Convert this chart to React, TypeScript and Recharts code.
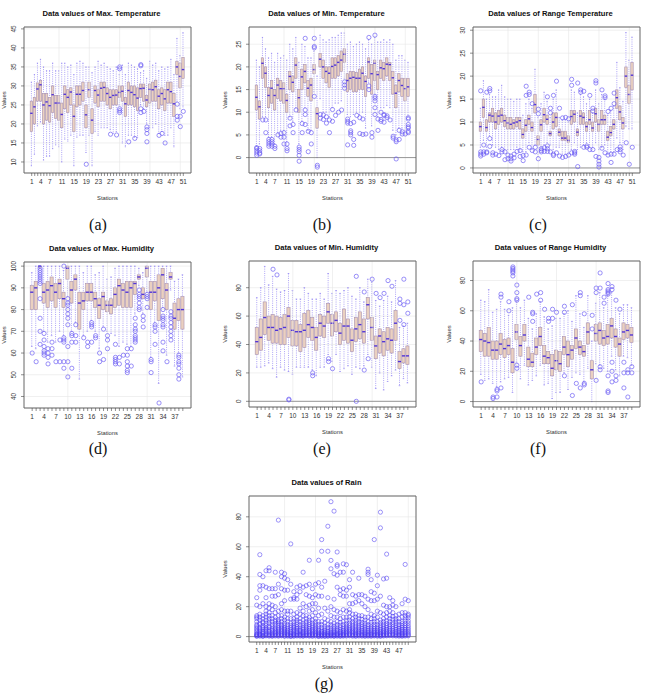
import React from 'react';
import { ComposedChart, Bar, Scatter, XAxis, YAxis, CartesianGrid, ReferenceLine } from 'recharts';

// [lower whisker, q1, median, q3, upper whisker] per station
const maxTempStats = [
  [9, 18, 22.8, 26, 31], [12, 20, 24.5, 27, 33], [19.5, 26, 29.2, 30.8, 36], [20.5, 26, 30.3, 31.5, 37],
  [10.5, 20, 25, 28, 35], [11.5, 21, 25.8, 28, 34], [11.5, 20.5, 24.8, 27, 34], [13.5, 23, 27.7, 30, 36],
  [14.5, 21.5, 25.5, 27.5, 34], [14, 21, 25.5, 27.5, 34], [10, 19, 22.5, 25.5, 36], [16, 24, 27.8, 30, 36],
  [15.5, 23, 27, 29, 35], [17, 25, 28.4, 29.5, 35.5], [9, 18, 22, 25, 33], [16.5, 24.5, 27.8, 30, 36],
  [17, 25, 27.8, 30, 36.5], [17, 26, 28.8, 31, 36], [12.5, 19, 22.4, 25, 35], [17, 27, 29, 31, 35],
  [9, 17.5, 21, 24, 33.5], [18, 25.5, 28.8, 30, 35], [17, 24.5, 27.6, 29, 36.5], [19, 26, 29.4, 31, 35.5],
  [19, 26, 29.6, 31, 36], [19, 25, 28, 29.5, 35], [18.5, 24, 27, 29, 34.5], [17.5, 25, 27.5, 29, 34],
  [18, 25, 27.6, 29, 35], [25, 27, 28.3, 30, 33], [15, 26, 28.6, 30, 35.5], [14, 22, 25.3, 27, 33],
  [17, 25, 28.8, 31, 36], [17, 25, 28.3, 30, 35.5], [16.5, 24.5, 27.7, 30, 35], [16.5, 23.5, 26.8, 29.5, 34.5],
  [25, 27, 29.3, 30.5, 33.5], [24, 26, 29.4, 30.5, 34], [20, 24.5, 26.3, 27.5, 32], [19, 25.5, 29.1, 30.5, 36.5],
  [19, 26, 29, 31, 35.5], [20, 26, 29.8, 31.5, 36], [17.5, 24, 27.3, 29, 34], [18, 25, 28, 29.5, 35],
  [17, 23.5, 26.6, 29, 34.5], [17, 25.5, 29, 31, 35], [19, 25.5, 28.5, 31, 37], [14, 22, 25.3, 28, 33],
  [26, 33, 35, 36.5, 42.5], [24, 29.5, 32.5, 36, 38], [24.5, 32, 34.3, 37.5, 44],
];
const maxTempOutliers: Record<number, number[]> = {
  19: [9.4], 27: [17.3], 29: [17.1], 30: [34.5, 35, 23, 23.5, 24], 33: [15.3], 35: [16.2],
  37: [35.3, 35.6, 23, 24], 38: [23.3], 39: [18.5, 19.2, 17.5, 15.3], 43: [17], 44: [17.5], 45: [15],
  49: [22, 21, 25.2], 50: [19.3, 22], 51: [23.3],
};

const minTempStats = [
  [2.5, 10.5, 13.3, 16, 21.5], [3, 8.5, 11.2, 12.5, 20], [9, 17.5, 20.8, 22, 26.5], [9, 15.5, 18.6, 20, 24],
  [4.5, 11, 13.7, 15.5, 22], [4.5, 12, 15.3, 17, 23], [3, 10.5, 13.7, 15, 21], [5.5, 13, 16, 17.5, 23],
  [6, 12.5, 15.2, 17, 22], [6, 12, 15.2, 16.5, 22.5], [3.5, 10, 12.6, 14, 21.5], [9, 15, 17.9, 19, 25],
  [8, 14.5, 16.6, 18, 24], [11, 17.5, 20.4, 22, 26.5], [3, 10, 13.2, 15, 21], [8, 15, 17.8, 19.5, 25],
  [11, 16.5, 19, 20.5, 24.5], [6, 13.5, 15.3, 17, 22], [6, 12.5, 16, 17.5, 22], [14.5, 18.5, 19.4, 20.5, 23.5],
  [0, 6.5, 9.7, 11, 18], [13, 20, 21.7, 23, 27], [10, 17.5, 20, 21.5, 26], [10, 16.5, 19, 20, 25.5],
  [9, 15.5, 18.6, 20, 26], [11, 17.5, 20.1, 22, 26.5], [12, 17.5, 20.4, 22, 26.5], [12, 18, 21, 22.5, 27],
  [12.5, 19, 21.5, 23.5, 27.5], [17.5, 21, 22.8, 24, 27.5], [9.5, 14.5, 17, 18.5, 25], [9, 15, 17.5, 19, 25.5],
  [9.5, 14.5, 17.7, 19, 24.5], [10, 14.5, 17.5, 18.8, 25], [9.5, 15, 17.5, 19.5, 25.5], [10, 15, 18.6, 20, 25],
  [6.5, 13.5, 16.8, 18, 24], [16.5, 17.5, 21.1, 22, 26], [7, 14, 18.5, 20.5, 25], [14, 17, 20.8, 21.5, 26.5],
  [9, 15, 18.3, 19, 25.5], [11, 17.5, 19.8, 21.5, 25.5], [11, 17, 19.6, 21, 26], [11.5, 18, 20.6, 22, 25.5],
  [11, 17, 20.5, 21, 26], [6, 14, 17.6, 19, 25], [5, 11, 14.2, 16, 21.5], [6.5, 14.5, 17, 18.5, 22.5],
  [6.5, 13.5, 15.9, 17.5, 22.5], [6, 12.5, 15.2, 17.5, 21.5], [9, 13.5, 15.6, 17.5, 21],
];
const minTempOutliers: Record<number, number[]> = {
  1: [0.5, 1, 1.5, 2, 2.2], 2: [0.8, 1, 1.5, 2], 3: [8.3], 4: [8.3, 5.5], 5: [2.5, 3, 3.5, 4],
  6: [2.5, 3, 3.5, 4], 7: [2, 2.5], 8: [5], 9: [4.5, 5.3], 10: [3, 4.5, 5.5], 11: [1.5, 2, 3],
  12: [7, 8.7], 13: [5.5, 7.3], 14: [10.5], 15: [-0.8, 0.5, 1.3, 1.8, 2.3], 16: [5.5, 7.5],
  17: [26.3, 9.5, 10.5, 7.3], 18: [1.3, 5.8], 19: [3, 5.5], 20: [26.3, 24.5, 24.2, 13.5], 21: [-1.7, -2.1],
  22: [9.5, 8.7], 23: [9.4, 8.4], 24: [9, 7.6], 25: [8.3, 5.5], 26: [10.6, 8], 27: [9.3], 28: [10],
  29: [10.5], 30: [16.7, 16, 15.3], 31: [8.5, 8, 7.6, 2.8], 32: [7.5, 5.9, 5, 5.5], 33: [7.8, 4, 2.7],
  34: [9.3], 35: [8.8, 5.3], 36: [8.5, 5.1], 37: [5.2], 38: [26.5, 15.8, 15], 39: [5.5, 4.5],
  40: [27, 13.5, 13.1, 12.5, 11, 9.5], 41: [8.5, 6], 42: [10, 8.4, 8], 43: [9.5, 9.3, 7.8], 44: [8.8, 9.2],
  45: [8.3], 46: [4.7, 4.3], 47: [3.9, 3.5, -0.3], 48: [6, 4], 49: [5.7, 5.2], 50: [5.2],
  51: [8.8, 8.5, 7.3, 6.8, 6.5, 5.8, 5.5],
};

const rangeTempStats = [
  [4.5, 8, 9, 10, 13], [6, 11, 13.2, 15, 19], [4.5, 8, 8.8, 10.5, 15], [7, 10, 11.5, 12, 16],
  [5, 10, 11.3, 13, 15.5], [4.5, 8.5, 10, 12, 15.5], [4, 9.5, 11.3, 12.5, 17], [4.5, 10, 11.5, 13, 18],
  [4, 9, 10.3, 11.5, 15.5], [4, 8.5, 9.8, 11, 15], [4, 8.5, 9.5, 11, 15], [4, 8.5, 9.8, 10.5, 14.5],
  [4.5, 9, 10, 11, 15], [4, 8.5, 10.3, 11, 15], [3.5, 6.5, 7.3, 8.5, 11.5], [3.5, 8, 9.3, 10.5, 14],
  [5.5, 9.5, 10.7, 11.5, 15], [4, 8, 8.8, 10, 13], [5, 12, 13.8, 16, 21.5], [2.5, 5, 6.2, 7, 11],
  [4.5, 8, 9.4, 10.5, 14], [5, 10, 11.6, 13, 16.5], [5.5, 9.5, 10.6, 11.5, 14.5], [5, 7, 7.5, 8, 11],
  [4, 8.5, 10, 12, 15], [4.5, 9, 11, 12, 17], [4.5, 7, 7.8, 8.5, 11], [3, 6, 6.5, 8, 10.5],
  [3, 6, 6.5, 8, 10.5], [3, 5.5, 6, 7, 10], [4, 9.5, 11.2, 12.5, 17], [5.5, 10, 11.7, 12.5, 16.5],
  [4, 7, 7.8, 8.5, 12], [4.5, 9.5, 11.3, 12.5, 16], [5, 9.5, 11, 12, 15.5], [5.5, 8, 9, 10, 14],
  [4.5, 9.5, 10.5, 12.5, 15], [4.5, 8, 8.7, 10, 12], [5.5, 10, 11.8, 13, 17], [4, 8, 9.5, 10.5, 14],
  [4.5, 9.5, 10.5, 12.5, 16], [5, 9.5, 10.5, 11.5, 15], [3, 6, 6.7, 8, 11.5], [3.5, 7, 7.7, 9, 12.5],
  [3.5, 8.5, 9.5, 10.5, 13.5], [6.5, 13, 15.3, 17, 23], [5.5, 10.5, 12.2, 13.5, 17.5], [4, 8.5, 9.8, 11, 14.5],
  [9, 17.5, 20, 22, 29.5], [8.5, 14, 16, 18, 23.5], [8.5, 17, 20.2, 23, 28.5],
];
const rangeTempOutliers: Record<number, number[]> = {
  1: [16.8, 3.5, 3, 2.6], 2: [5, 3.5, 3], 3: [16.5, 3.5, 3.3], 4: [17.3, 16.8, 6.4, 4.7], 5: [3.3, 2.8],
  6: [3], 7: [2.7], 8: [4, 3.5], 9: [1.8, 3.5], 10: [2.8, 2], 11: [2.6, 1.5, 2], 12: [2.2, 3], 13: [3.6],
  14: [3.8, 2.5], 15: [2.7, 1.6], 16: [17.8, 15.8, 2.8], 17: [16, 16.5, 4.5], 18: [14, 3.8], 19: [4.5, 3.5],
  20: [12.8, 11.8, 2], 21: [3.5, 3.8, 4.2], 22: [4.4, 3.6], 23: [15.5, 3.6, 4.2, 4.8], 24: [12, 13, 3.5],
  25: [15.8, 3, 2.7], 26: [18.9, 3.3], 27: [13, 2.6], 28: [10.9, 2.3], 29: [11, 2.5], 30: [10.7, 2.8],
  31: [19.3, 18, 3.3], 32: [3.6, 3.3, 3], 33: [18.5, 0.3], 34: [17, 16.5], 35: [16.7, 4.5], 36: [4.8, 4.5],
  37: [15.8, 4], 38: [13, 12.4, 4], 39: [19, 18.5, 2.5], 40: [2.3, 1.5, 0.8, 0.2], 41: [17, 4.3],
  42: [15.7, 15.3, 3.3], 43: [12.3, 2.8], 44: [13, 3, 1.2], 45: [16.3, 14, 3], 46: [4], 47: [4.6, 4, 3.5],
  48: [2.8], 49: [5.5], 50: [0.8], 51: [4.5],
};

const maxHumStats = [
  [63, 80, 88, 91, 97], [62, 80, 90, 93, 100], [99, 99.5, 100, 100, 100], [70, 83, 88, 92, 100],
  [65, 81, 89, 93, 100], [68, 84, 91, 95, 100], [65, 81, 88, 92, 100], [70, 85, 92, 94, 100],
  [68, 81, 85, 88, 98], [86, 94, 99, 100, 100], [70, 83, 89, 93, 100], [74, 89, 94, 96, 100],
  [48, 71, 83, 88, 100], [68, 80, 84, 88, 97], [70, 84, 88, 92, 100], [75, 84, 88, 92, 100],
  [70, 81, 85, 88, 96], [62, 76, 82, 85, 97], [72, 80, 86, 88, 100], [70, 79, 82, 84, 94],
  [69, 78, 82, 85, 95], [68, 81, 87, 90, 99], [63, 82, 91, 94, 100], [65, 81, 89, 92, 100],
  [64, 81, 88, 93, 100], [63, 81, 90, 93, 100], [78, 87, 92, 93, 100], [91, 94, 95, 96, 99],
  [78, 85, 87, 90, 97], [88, 95, 99, 100, 100], [58, 80, 88, 93, 100], [74, 84, 88, 93, 100],
  [46, 75, 90, 96, 100], [81, 85, 96, 99, 100], [59, 80, 89, 92, 100], [89, 94, 95, 97, 100],
  [54, 71, 76, 83, 93], [60, 75, 80, 85, 94], [49, 71, 80, 86, 96],
];
const maxHumOutliers: Record<number, number[]> = {
  1: [60], 2: [56], 3: [99, 98, 97, 96, 95, 94, 93, 92, 85, 76, 70, 64], 4: [69, 66, 63, 61, 60, 59],
  5: [62, 60, 58, 55], 6: [65, 62, 59], 7: [56], 8: [66, 56], 9: [100, 67, 66, 65, 56, 53],
  10: [85, 83, 82, 80, 78, 76, 73, 63, 56, 49], 11: [69, 68, 65, 53], 12: [73, 68, 65], 14: [67],
  15: [65, 63], 16: [74, 73, 72, 65], 17: [68, 67], 18: [60, 56], 19: [71, 57], 20: [68, 66, 62],
  22: [64, 58, 57, 56, 55], 23: [58, 55], 24: [59], 25: [62, 59, 56, 54, 52, 51], 26: [62, 54],
  27: [76, 73, 71, 70, 68, 67, 66, 65], 28: [89, 87, 86, 85, 83, 81, 80], 29: [77, 75, 72],
  30: [87, 86, 85, 81], 31: [57, 56, 51], 32: [73, 72, 70, 64], 33: [37], 34: [80, 77, 76, 75, 73, 72, 65, 61],
  35: [56], 36: [79, 77, 76, 74, 72, 70, 68, 66], 38: [59, 58, 56, 55, 53, 50, 48],
};

const minHumStats = [
  [24, 33, 42, 52, 73], [24, 36, 45, 58, 80], [25, 47, 59, 70, 95], [27, 43, 52, 60, 82],
  [23, 41, 52, 61, 88], [17, 41, 50, 60, 79], [24, 40, 51, 59, 77], [22, 40, 52, 61, 78],
  [21, 45, 60, 66, 90], [19, 39, 50, 57, 78], [24, 39, 49, 57, 72], [24, 35, 49, 54, 72],
  [24, 38, 50, 62, 80], [24, 45, 54, 64, 76], [22, 43, 52, 59, 72], [18, 36, 45, 52, 72],
  [24, 46, 55, 61, 76], [24, 45, 53, 60, 72], [33, 55, 63, 69, 90], [28, 46, 55, 61, 76],
  [33, 49, 57, 63, 78], [21, 40, 48, 55, 76], [23, 43, 53, 65, 78], [25, 41, 53, 58, 80],
  [19, 35, 43, 51, 74], [24, 42, 51, 59, 72], [23, 44, 54, 63, 80], [25, 41, 49, 58, 70],
  [33, 58, 68, 73, 86], [24, 43, 52, 59, 84], [9, 30, 39, 46, 71], [20, 34, 46, 51, 67],
  [8, 32, 42, 49, 71], [14, 36, 44, 52, 74], [18, 34, 43, 51, 70], [22, 43, 55, 64, 85],
  [11, 23, 28, 35, 52], [16, 27, 32, 37, 53], [13, 26, 32, 39, 55],
];
const minHumOutliers: Record<number, number[]> = {
  5: [93], 6: [89], 9: [1, 1.5], 15: [20, 18], 19: [30, 28], 20: [23], 26: [88, 0], 28: [77, 22],
  29: [30], 30: [86], 31: [76], 32: [73], 33: [76], 34: [85], 35: [81], 37: [72, 69, 57],
  38: [86, 68, 54], 39: [70, 62],
};

const rangeHumStats = [
  [18, 33, 41, 47, 67], [14, 30, 40, 45, 66], [15, 30, 39, 49, 74], [12, 28, 34, 40, 59],
  [10, 28, 34, 40, 61], [13, 31, 38, 45, 66], [15, 29, 35, 41, 61], [16, 31, 37, 42, 57],
  [6, 19, 26, 35, 62], [26, 41, 46, 51, 66], [15, 30, 37, 43, 62], [24, 40, 44, 51, 67],
  [11, 23, 28, 36, 55], [14, 23, 26, 32, 48], [17, 31, 36, 42, 58], [24, 37, 43, 49, 66],
  [11, 25, 30, 37, 56], [12, 25, 29, 33, 48], [2, 17, 22, 31, 50], [6, 21, 27, 34, 55],
  [6, 20, 25, 33, 55], [19, 31, 36, 43, 58], [8, 23, 31, 40, 60], [16, 28, 34, 37, 53],
  [19, 35, 42, 48, 70], [18, 31, 36, 40, 58], [13, 30, 33, 37, 49], [22, 38, 46, 52, 70],
  [0, 15, 21, 27, 40], [25, 40, 45, 51, 65], [24, 38, 47, 52, 72], [22, 37, 42, 47, 62],
  [20, 38, 43, 51, 70], [30, 42, 50, 55, 72], [21, 36, 43, 48, 62], [17, 30, 38, 42, 58],
  [30, 41, 46, 52, 64], [29, 42, 47, 51, 64], [24, 39, 44, 49, 62],
];
const rangeHumOutliers: Record<number, number[]> = {
  1: [13], 4: [3, 2], 5: [8, 7, 3], 6: [71, 69, 9], 8: [66, 60], 9: [89, 88, 87, 86, 85, 83],
  10: [77, 72, 68, 67, 24, 22], 13: [69], 14: [59, 58, 53], 15: [71], 16: [72, 67], 17: [61],
  18: [55, 53], 19: [61, 55], 20: [59], 22: [63, 59, 17], 24: [64, 4], 25: [12], 26: [72, 70, 9],
  27: [58, 12, 11], 29: [57, 48], 30: [75, 72, 14], 31: [85, 75, 23, 21], 32: [69, 65],
  33: [78, 74, 73, 72, 71, 17, 7, 6], 34: [76, 74, 26, 20, 13], 35: [67, 17, 14], 36: [61],
  37: [26, 19, 9], 38: [21, 19, 3], 39: [23, 19],
};

// rain: quartiles all collapse to zero, every wet day is drawn as an outlier
const rainStats = Array.from({ length: 50 }, () => [0, 0, 0, 0, 0]);
const rainOutlierText = [
  '0.2 0.5 1 1.5 2 3 4 5 6 7 8 10 12 13 14 21 26',
  '0.3 0.8 1.5 2 3 4 5 6 8 9 11 13 15 20 31 34 41.5 54.7',
  '0.1 0.5 1 2 2.5 3.5 5 6 7 9 10 12 14 22 34 40',
  '0.5 1 2 3 4 5 6 7.5 9 11 13 15 17 20 26 33 44',
  '0.3 0.8 1.5 2.5 3.5 4.5 6 7 9 10.5 12 14 16 19 22 32 44 46',
  '0.2 0.6 1.2 2 3 4 5 6.5 8 10 12 14 18 21 27 32',
  '0.4 1 1.8 2.6 3.5 4.5 5.5 7 8.5 10 11 13 16 20 27 32 43',
  '0.3 0.7 1.5 2.2 3 4 5 6 7.5 9 10 11 14 17 28 35 77.8',
  '0.5 1 2 3 4 5 6 7 8 10 12 14 18 22 32 40 43',
  '0.2 0.6 1.4 2.2 3 4 5 6 7.5 9 11 13 17 24 31 39 42',
  '0.3 0.9 1.6 2.4 3.2 4.2 5.2 6.5 8 10 12 15 17 31 38',
  '0.1 0.4 1 1.8 2.6 3.6 4.6 6 7.5 9 12 17 25 35 61.9',
  '0.2 0.7 1.3 2 3 4 5 6 7 8.5 10 12 15 25 26 30',
  '0.4 0.9 1.7 2.5 3.4 4.4 5.5 6.6 8 9.5 11 13 16 25 28 33',
  '0.3 0.8 1.5 2.3 3.2 4 5 6.5 8 10 12 15 19 30 34',
  '0.2 0.6 1.2 2 2.8 3.8 5 6 7.5 9 11 14 17 22 33 43',
  '0.5 1 1.8 2.7 3.6 4.6 5.8 7 8.5 10 12 14 20 28 34',
  '0.3 0.8 1.6 2.4 3.3 4.3 5.4 6.6 8 9.5 11 13 17 21 27 35 51',
  '0.2 0.7 1.4 2.1 3 4 5 6.2 7.5 9 11 14 18 22 26 32',
  '0.4 1 1.7 2.5 3.5 4.5 5.5 7 8.5 10 12 16 22 28 35',
  '0.1 0.4 0.9 1.5 2.2 3 4 5 6.5 8 10 14 19 27 36 51',
  '0.2 0.6 1.2 1.8 2.6 3.5 4.5 6 8 10 15 27 33 57 64.8',
  '0.1 0.5 1 1.6 2.3 3.2 4.2 5.5 7 9 12 19 37',
  '0.2 0.6 1.1 1.7 2.5 3.4 4.5 6 8 11 17 26 57 73.7',
  '0.3 0.7 1.3 2 2.8 3.8 5 6.5 8 10 14 20 45.3 50.9 90.1',
  '0.2 0.5 1 1.6 2.4 3.3 4.3 5.5 7 9 13 18 25 42 83.8',
  '0.3 0.8 1.4 2.1 3 4 5 6.5 8 10 13 17 33 41 47 48 56.5',
  '0.2 0.6 1.2 1.9 2.7 3.6 4.6 6 7.5 9.5 12 16 28 31 43',
  '0.3 0.8 1.5 2.3 3.1 4.1 5.2 6.5 8 10 13 18 27 32 43 48.6',
  '0.4 1 1.8 2.6 3.5 4.5 5.6 7 8.5 10.5 13 17 27 31 48',
  '0.5 1.2 2 3 4 5 6 7.5 9 11 13 16 18 22 33 38',
  '0.3 0.9 1.7 2.6 3.5 4.5 5.6 7 8.5 10 12 15 22 28 43',
  '0.2 0.7 1.4 2.2 3 4 5 6.3 7.7 9.2 11 13 15 23 27',
  '0.4 1 1.8 2.6 3.6 4.6 5.8 7 8.5 10 12 14 24 28 39',
  '0.3 0.8 1.5 2.3 3.2 4.2 5.3 6.5 8 9.5 11.5 14 22 28',
  '0.2 0.6 1.3 2 2.9 3.9 5 6.2 7.6 9 11 13 20 27',
  '0.3 0.8 1.5 2.3 3.2 4.2 5.3 6.6 8 10 13 18 25 41.5 43 45',
  '0.2 0.7 1.4 2.1 3 4 5.1 6.3 7.8 9.5 12 15 24 30 38',
  '0.4 0.9 1.6 2.4 3.3 4.3 5.4 6.7 8.2 10 12 14 24 29 64.8',
  '0.3 0.8 1.5 2.3 3.1 4.1 5.2 6.4 8 10 13 17 25 34 41',
  '0.2 0.6 1.3 2 2.8 3.8 4.9 6.1 7.5 9.2 11 16 27 72.6 83.1',
  '0.4 1 1.7 2.5 3.4 4.4 5.5 6.8 8.3 10 12 15 21 38.5',
  '0.5 1.1 1.9 2.8 3.8 4.8 6 7.3 8.8 10.5 13 16 20 39 55.1',
  '0.6 1.3 2.2 3.2 4.3 5.5 6.8 8.2 10 12 14 17 20 26',
  '0.5 1.2 2 3 4 5.2 6.5 8 9.6 11.5 13.5 16 21 24',
  '0.4 1 1.8 2.7 3.7 4.8 6 7.4 9 10.5 12 14 20',
  '0.3 0.9 1.6 2.4 3.3 4.3 5.4 6.6 8 10 12 15',
  '0.2 0.7 1.4 2.1 2.9 3.8 4.8 6 7.2 8.6 10 13 16 22',
  '0.4 1 1.8 2.7 3.7 4.8 6 7.3 8.8 10.5 12.5 14 16 25 48.2',
  '0.5 1.1 1.9 2.8 3.8 4.9 6.1 7.4 9 10.5 12.5 14 15 24',
];
const rainOutliers: Record<number, number[]> = Object.fromEntries(
  rainOutlierText.map((s, i) => [i + 1, s.split(' ').map(Number)])
);

const labels51 = [1, 4, 7, 11, 15, 19, 23, 27, 31, 35, 39, 43, 47, 51];
const labels39 = [1, 4, 7, 10, 13, 16, 19, 22, 25, 28, 31, 34, 37];
const labelsRain = [1, 4, 7, 11, 15, 19, 23, 27, 31, 35, 39, 43, 47];

const FRAME = '#666';
const BOX_FILL = '#ead0c0';
const BOX_EDGE = '#a890b0';
const MEDIAN = '#5034d8';
const WHISKER = '#8b7df2';
const OUTLIER = '#6f60f4';
const PW = 167;
const PH = 146;

const BoxShape = (props: any) => {
  const { x, y, width, height, payload } = props;
  if (x == null || !payload) return null;
  const { lo, q1, med, q3, hi } = payload;
  const top = Math.min(y, y + height);
  const span = Math.abs(height);
  const k = hi > lo ? span / (hi - lo) : 0;
  const py = (v: number) => top + (hi - v) * k;
  const cx = x + width / 2;
  const cap = width / 4;
  return (
    <g>
      {k > 0 && (
        <>
          <line x1={cx} x2={cx} y1={py(hi)} y2={py(q3)} stroke={WHISKER} strokeWidth={0.7} strokeDasharray="1 1.2" />
          <line x1={cx} x2={cx} y1={py(q1)} y2={py(lo)} stroke={WHISKER} strokeWidth={0.7} strokeDasharray="1 1.2" />
          <line x1={cx - cap} x2={cx + cap} y1={py(hi)} y2={py(hi)} stroke={WHISKER} strokeWidth={0.7} />
          <line x1={cx - cap} x2={cx + cap} y1={py(lo)} y2={py(lo)} stroke={WHISKER} strokeWidth={0.7} />
          <rect x={x} y={py(q3)} width={width} height={Math.max(py(q1) - py(q3), 0.5)} fill={BOX_FILL} stroke={BOX_EDGE} strokeWidth={0.6} />
        </>
      )}
      <line x1={x} x2={x + width} y1={py(med)} y2={py(med)} stroke={MEDIAN} strokeWidth={1.4} />
    </g>
  );
};

type PanelSpec = {
  title: string;
  left: number;
  top: number;
  stats: number[][];
  outliers: Record<number, number[]>;
  domain: [number, number];
  yTicks: number[];
  xLabels: number[];
  zeroLine?: boolean;
  rain?: boolean;
};

const YTick = (props: any) => {
  const { x, y, payload } = props;
  return (
    <text x={x} y={y} transform={`rotate(-90 ${x} ${y})`} textAnchor="middle" fontSize={6.3} fill="#333">
      {payload.value}
    </text>
  );
};

const makeXTick = (labels: number[]) => (props: any) => {
  const { x, y, payload } = props;
  if (!labels.includes(payload.value)) return <g />;
  return (
    <text x={x} y={y + 6} textAnchor="middle" fontSize={6.5} fill="#333">
      {payload.value}
    </text>
  );
};

function Panel({ p }: { p: PanelSpec }) {
  const n = p.stats.length;
  const pad = 0.5 + 0.04 * n;
  const spacing = PW / (n - 1 + 2 * pad);
  const stations = p.stats.map((_, i) => i + 1);
  const boxes = p.stats.map((s, i) => ({ station: i + 1, lo: s[0], q1: s[1], med: s[2], q3: s[3], hi: s[4] }));
  const points = Object.entries(p.outliers).flatMap(([k, vals]) => vals.map((v) => ({ station: Number(k), v })));
  const gridX = [10, 20, 30, 40, 50].filter((v) => v <= n);
  const outColor = p.rain ? '#4636f2' : OUTLIER;
  const valuesShift = p.left < 100 ? 4 : 0;

  return (
    <div style={{ position: 'absolute', left: p.left - 24, top: p.top - 27, width: 215, height: 215 }}>
      <div style={{ position: 'absolute', top: 9, left: 18, width: PW, textAlign: 'center', fontSize: 7.6, lineHeight: '10px', fontWeight: 'bold', color: '#111', whiteSpace: 'nowrap' }}>
        {p.title}
      </div>
      <ComposedChart width={215} height={215} data={boxes} margin={{ top: 26, right: 23, bottom: 0, left: 4 }}>
        <CartesianGrid vertical={false} stroke="#e6e6e6" strokeWidth={0.6} />
        {gridX.map((g) => (
          <ReferenceLine key={g} x={g} stroke="#e6e6e6" strokeWidth={0.6} />
        ))}
        {p.zeroLine && <ReferenceLine y={0} stroke="#808080" strokeWidth={0.8} />}
        <XAxis
          dataKey="station"
          type="number"
          domain={[1 - pad, n + pad]}
          ticks={stations}
          interval={0}
          allowDataOverflow
          height={42}
          tickSize={3}
          tickMargin={2}
          tick={makeXTick(p.xLabels)}
          axisLine={{ stroke: FRAME }}
          tickLine={{ stroke: '#444', strokeWidth: 0.6 }}
        />
        <XAxis xAxisId="top" orientation="top" type="number" domain={[0, 1]} height={1} tick={false} tickLine={false} axisLine={{ stroke: FRAME }} />
        <YAxis
          type="number"
          domain={p.domain}
          ticks={p.yTicks}
          interval={0}
          allowDataOverflow
          width={20}
          tickSize={3}
          tickMargin={5}
          tick={<YTick />}
          axisLine={{ stroke: FRAME }}
          tickLine={{ stroke: '#444', strokeWidth: 0.6 }}
        />
        <YAxis yAxisId="right" orientation="right" type="number" domain={[0, 1]} width={1} tick={false} tickLine={false} axisLine={{ stroke: FRAME }} />
        <Bar dataKey={(d: any) => [d.lo, d.hi]} barSize={spacing * 0.8} shape={BoxShape} isAnimationActive={false} />
        <Scatter
          data={points}
          dataKey="v"
          isAnimationActive={false}
          shape={(s: any) => (
            <circle cx={s.cx} cy={s.cy} r={2.1} fill="none" stroke={outColor} strokeOpacity={p.rain ? 0.75 : 1} strokeWidth={0.7} />
          )}
        />
      </ComposedChart>
      <div style={{ position: 'absolute', top: 27 + PH + 21, left: 24, width: PW, textAlign: 'center', fontSize: 5.8, lineHeight: '8px', color: '#333' }}>
        Stations
      </div>
      <div style={{ position: 'absolute', top: 27 + PH / 2 - 4, left: -20 + valuesShift, width: 40, textAlign: 'center', fontSize: 5.8, lineHeight: '8px', color: '#333', transform: 'rotate(-90deg)' }}>
        Values
      </div>
    </div>
  );
}

const panels: PanelSpec[] = [
  { title: 'Data values of Max. Temperature', left: 24, top: 27, stats: maxTempStats, outliers: maxTempOutliers, domain: [7.1, 45.5], yTicks: [10, 15, 20, 25, 30, 35, 40, 45], xLabels: labels51 },
  { title: 'Data values of Min. Temperature', left: 249, top: 27, stats: minTempStats, outliers: minTempOutliers, domain: [-3.4, 28.8], yTicks: [0, 5, 10, 15, 20, 25], xLabels: labels51, zeroLine: true },
  { title: 'Data values of Range Temperature', left: 473, top: 27, stats: rangeTempStats, outliers: rangeTempOutliers, domain: [-1.1, 30.7], yTicks: [0, 5, 10, 15, 20, 25, 30], xLabels: labels51, zeroLine: true },
  { title: 'Data values of Max. Humidity', left: 24, top: 262, stats: maxHumStats, outliers: maxHumOutliers, domain: [34.7, 101.9], yTicks: [40, 50, 60, 70, 80, 90, 100], xLabels: labels39 },
  { title: 'Data values of Min. Humidity', left: 249, top: 261, stats: minHumStats, outliers: minHumOutliers, domain: [-4, 98.8], yTicks: [0, 20, 40, 60, 80], xLabels: labels39, zeroLine: true },
  { title: 'Data values of Range Humidity', left: 473, top: 261, stats: rangeHumStats, outliers: rangeHumOutliers, domain: [-3.6, 92.9], yTicks: [0, 20, 40, 60, 80], xLabels: labels39, zeroLine: true },
  { title: 'Data values of Rain', left: 249, top: 496, stats: rainStats, outliers: rainOutliers, domain: [-3.6, 93.9], yTicks: [0, 20, 40, 60, 80], xLabels: labelsRain, zeroLine: true, rain: true },
];

const subLabels = [
  { text: '(a)', x: 98, y: 225 },
  { text: '(b)', x: 322, y: 225 },
  { text: '(c)', x: 538, y: 225 },
  { text: '(d)', x: 98, y: 449 },
  { text: '(e)', x: 322, y: 449 },
  { text: '(f)', x: 538, y: 449 },
  { text: '(g)', x: 324, y: 684 },
];

export default function App() {
  return (
    <div style={{ position: 'absolute', left: 0, top: 0, width: 648, height: 695, background: '#fff', overflow: 'hidden', fontFamily: '"Liberation Sans", Arial, sans-serif' }}>
      {panels.map((p) => (
        <Panel key={p.title} p={p} />
      ))}
      {subLabels.map((l) => (
        <div key={l.text} style={{ position: 'absolute', left: l.x - 30, top: l.y - 10, width: 60, textAlign: 'center', fontSize: 16, lineHeight: '20px', fontFamily: '"Liberation Serif", serif', color: '#111' }}>
          {l.text}
        </div>
      ))}
    </div>
  );
}
